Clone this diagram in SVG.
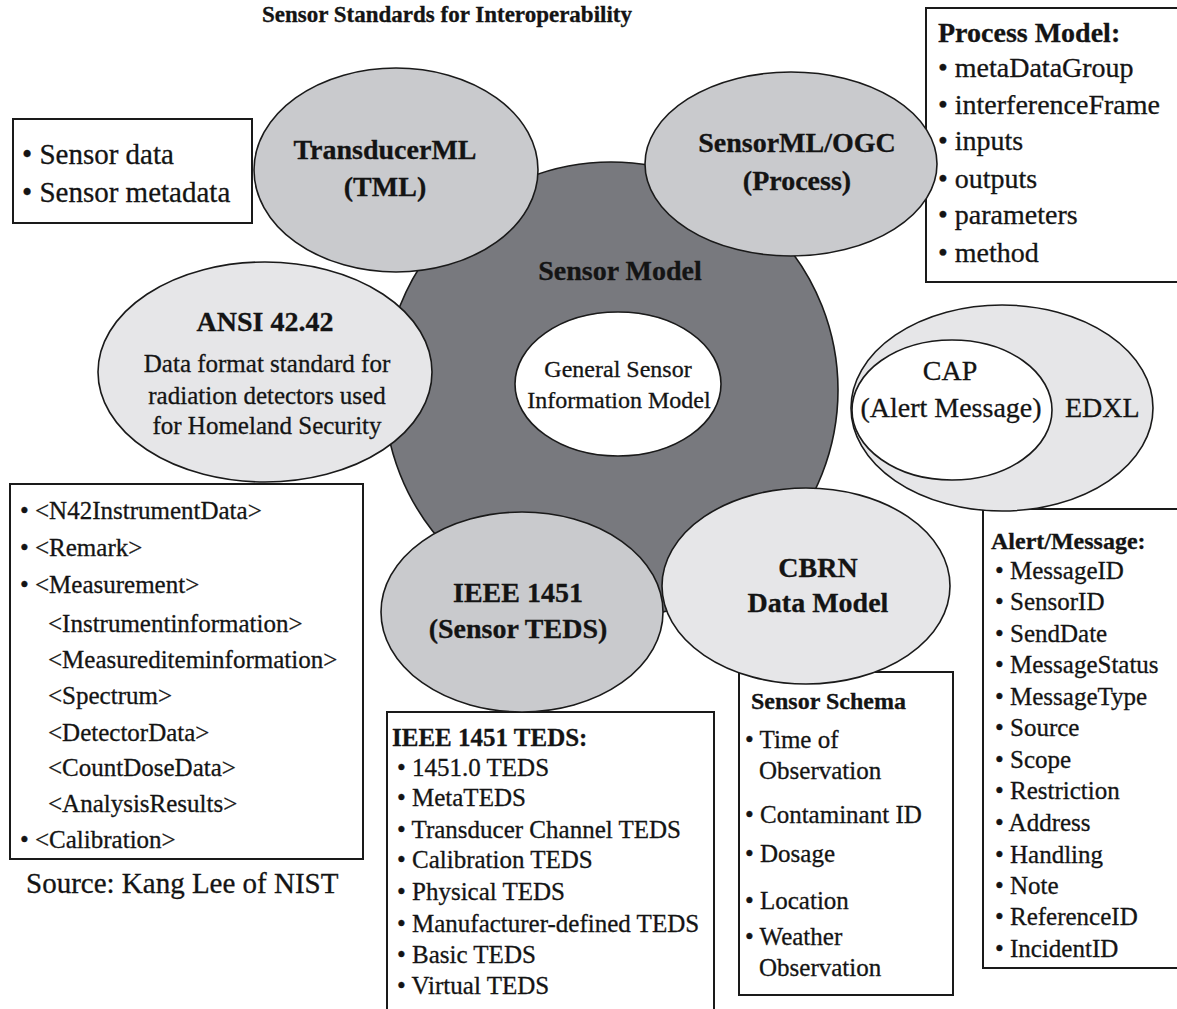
<svg xmlns="http://www.w3.org/2000/svg" width="1177" height="1009" viewBox="0 0 1177 1009">
  <style>
    text { font-family: "Liberation Serif", "Times New Roman", serif; fill: #141414; stroke: #141414; stroke-width: 0.3; }
    .title { font-size: 23px; font-weight: bold; text-anchor: middle; }
    .big { font-size: 28px; font-weight: bold; text-anchor: middle; }
    .mid { font-size: 25px; text-anchor: middle; }
    .core { font-size: 24px; text-anchor: middle; }
    .head { font-weight: bold; }
    .l29 { font-size: 29px; }
    .l28 { font-size: 28px; }
    .l25 { font-size: 25px; }
    .l24 { font-size: 24px; }
    .box { fill: #ffffff; stroke: #1a1a1a; stroke-width: 2; }
    .oval { stroke: #1a1a1a; stroke-width: 1.6; }
    .dark { fill: #78797e; }
    .medium { fill: #c9cacd; }
    .light { fill: #e6e6e8; }
    .white { fill: #ffffff; }
  </style>

  <rect width="1177" height="1009" fill="#ffffff"/>

  <text class="title" x="447" y="22">Sensor Standards for Interoperability</text>

  <!-- Attribute boxes (drawn first so the standard ovals sit on top of their edges) -->
  <g id="box-tml-items">
    <rect class="box" x="13" y="119" width="239" height="104"/>
    <text class="l29" x="22" y="164">• Sensor data</text>
    <text class="l29" x="22" y="202">• Sensor metadata</text>
  </g>

  <g id="box-process-model">
    <rect class="box" x="926" y="8" width="262" height="274"/>
    <text class="l28 head" x="938" y="42">Process Model:</text>
    <text class="l28" x="938" y="77">• metaDataGroup</text>
    <text class="l28" x="938" y="114">• interferenceFrame</text>
    <text class="l28" x="938" y="150">• inputs</text>
    <text class="l28" x="938" y="188">• outputs</text>
    <text class="l28" x="938" y="224">• parameters</text>
    <text class="l28" x="938" y="262">• method</text>
  </g>

  <g id="box-ansi-elements">
    <rect class="box" x="10" y="484" width="353" height="375"/>
    <text class="l25" x="20" y="519">• &lt;N42InstrumentData&gt;</text>
    <text class="l25" x="20" y="556">• &lt;Remark&gt;</text>
    <text class="l25" x="20" y="593">• &lt;Measurement&gt;</text>
    <text class="l25" x="48" y="632">&lt;Instrumentinformation&gt;</text>
    <text class="l25" x="48" y="668">&lt;Measurediteminformation&gt;</text>
    <text class="l25" x="48" y="704">&lt;Spectrum&gt;</text>
    <text class="l25" x="48" y="741">&lt;DetectorData&gt;</text>
    <text class="l25" x="48" y="776">&lt;CountDoseData&gt;</text>
    <text class="l25" x="48" y="812">&lt;AnalysisResults&gt;</text>
    <text class="l25" x="20" y="848">• &lt;Calibration&gt;</text>
  </g>

  <g id="box-ieee-teds">
    <rect class="box" x="387" y="712" width="327" height="320"/>
    <text class="l25 head" x="392" y="746">IEEE 1451 TEDS:</text>
    <text class="l25" x="397" y="776">• 1451.0 TEDS</text>
    <text class="l25" x="397" y="806">• MetaTEDS</text>
    <text class="l25" x="397" y="838">• Transducer Channel TEDS</text>
    <text class="l25" x="397" y="868">• Calibration TEDS</text>
    <text class="l25" x="397" y="900">• Physical TEDS</text>
    <text class="l25" x="397" y="932">• Manufacturer-defined TEDS</text>
    <text class="l25" x="397" y="963">• Basic TEDS</text>
    <text class="l25" x="397" y="994">• Virtual TEDS</text>
  </g>

  <g id="box-sensor-schema">
    <rect class="box" x="739" y="672" width="214" height="323"/>
    <text class="l24 head" x="751" y="709">Sensor Schema</text>
    <text class="l25" x="745" y="748">• Time of</text>
    <text class="l25" x="759" y="779">Observation</text>
    <text class="l25" x="745" y="823">• Contaminant ID</text>
    <text class="l25" x="745" y="862">• Dosage</text>
    <text class="l25" x="745" y="909">• Location</text>
    <text class="l25" x="745" y="945">• Weather</text>
    <text class="l25" x="759" y="976">Observation</text>
  </g>

  <g id="box-alert-message">
    <rect class="box" x="983" y="509" width="210" height="459"/>
    <text class="l24 head" x="991" y="549">Alert/Message:</text>
    <text class="l25" x="995" y="579">• MessageID</text>
    <text class="l25" x="995" y="610">• SensorID</text>
    <text class="l25" x="995" y="642">• SendDate</text>
    <text class="l25" x="995" y="673">• MessageStatus</text>
    <text class="l25" x="995" y="705">• MessageType</text>
    <text class="l25" x="995" y="736">• Source</text>
    <text class="l25" x="995" y="768">• Scope</text>
    <text class="l25" x="995" y="799">• Restriction</text>
    <text class="l25" x="995" y="831">• Address</text>
    <text class="l25" x="995" y="863">• Handling</text>
    <text class="l25" x="995" y="894">• Note</text>
    <text class="l25" x="995" y="925">• ReferenceID</text>
    <text class="l25" x="995" y="957">• IncidentID</text>
  </g>

  <!-- Central sensor model with its general information model core -->
  <g id="node-sensor-model">
    <ellipse class="oval dark" cx="611" cy="390" rx="227" ry="228"/>
    <text class="big" x="620" y="280">Sensor Model</text>
    <ellipse class="oval white" cx="618" cy="384" rx="103" ry="72"/>
    <text class="core" x="618" y="377">General Sensor</text>
    <text class="core" x="619" y="408">Information Model</text>
  </g>

  <!-- Surrounding standards -->
  <g id="node-tml">
    <ellipse class="oval medium" cx="396" cy="170" rx="142" ry="102"/>
    <text class="big" x="385" y="159">TransducerML</text>
    <text class="big" x="385" y="196">(TML)</text>
  </g>

  <g id="node-sensorml">
    <ellipse class="oval medium" cx="791" cy="164" rx="146" ry="92"/>
    <text class="big" x="797" y="152">SensorML/OGC</text>
    <text class="big" x="797" y="190">(Process)</text>
  </g>

  <g id="node-ansi">
    <ellipse class="oval light" cx="265" cy="372" rx="167" ry="110"/>
    <text class="big" x="265" y="331">ANSI 42.42</text>
    <text class="mid" x="267" y="372">Data format standard for</text>
    <text class="mid" x="267" y="404">radiation detectors used</text>
    <text class="mid" x="267" y="434">for Homeland Security</text>
  </g>

  <g id="node-edxl">
    <ellipse class="oval light" cx="1002" cy="408" rx="151" ry="103"/>
    <text class="l28" x="1065" y="417">EDXL</text>
  </g>

  <g id="node-cap">
    <ellipse class="oval white" cx="952" cy="410" rx="100" ry="70"/>
    <text class="l28" x="950" y="380" text-anchor="middle">CAP</text>
    <text class="l28" x="951" y="417" text-anchor="middle">(Alert Message)</text>
  </g>

  <g id="node-ieee1451">
    <ellipse class="oval medium" cx="522" cy="612" rx="141" ry="100"/>
    <text class="big" x="518" y="602">IEEE 1451</text>
    <text class="big" x="518" y="638">(Sensor TEDS)</text>
  </g>

  <g id="node-cbrn">
    <ellipse class="oval light" cx="806" cy="586" rx="144" ry="98"/>
    <text class="big" x="818" y="577">CBRN</text>
    <text class="big" x="818" y="612">Data Model</text>
  </g>

  <text class="l29" x="26" y="893">Source: Kang Lee of NIST</text>
</svg>
